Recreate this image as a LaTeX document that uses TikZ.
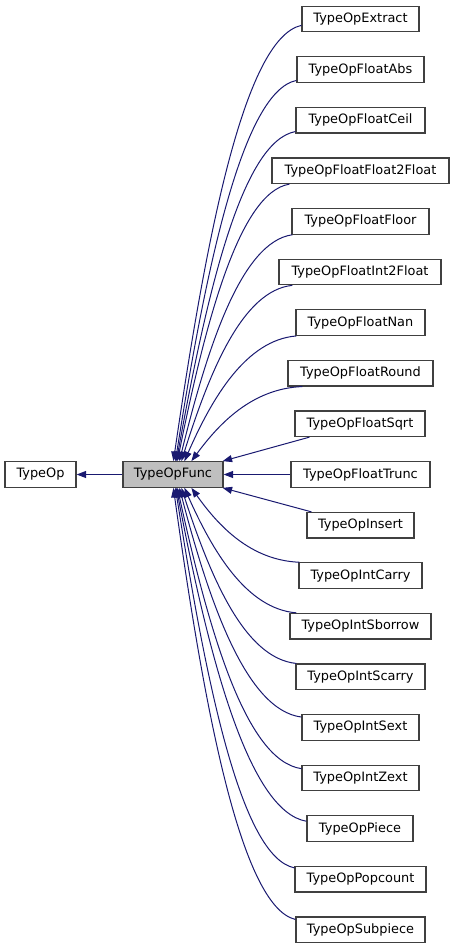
\documentclass[tikz,border=0pt]{standalone}
\usepackage{fontspec}
\setmainfont{DejaVu Sans}
\usetikzlibrary{arrows.meta,calc}
\definecolor{edgeblue}{HTML}{191970}
\definecolor{boxgray}{HTML}{404040}
\definecolor{funcfill}{HTML}{BFBFBF}
\tikzset{
  box/.style={draw=boxgray, line width=1.2pt, fill=white, minimum height=25.5pt,
    inner sep=0pt, font=\fontsize{12.9}{14}\selectfont, anchor=center},
  edge/.style={draw=edgeblue, line width=1pt, -{Triangle[length=9.5pt,width=7pt]}},
}
\begin{document}
\begin{tikzpicture}[x=1pt,y=-1pt]
\useasboundingbox (0,0) rectangle (455,949);
\node[box, minimum width=71pt] (typeop) at (40.5,474.5) {TypeOp};
\node[box, minimum width=100pt, fill=funcfill] (func) at (173,474.5) {TypeOpFunc};
\node[box, minimum width=117pt] (c0) at (360.5,19) {TypeOpExtract};
\node[box, minimum width=127pt] (c1) at (360.5,69.6) {TypeOpFloatAbs};
\node[box, minimum width=129pt] (c2) at (360.5,120.2) {TypeOpFloatCeil};
\node[box, minimum width=177pt] (c3) at (360.5,170.8) {TypeOpFloatFloat2Float};
\node[box, minimum width=137pt] (c4) at (360.5,221.4) {TypeOpFloatFloor};
\node[box, minimum width=162pt] (c5) at (360,272) {TypeOpFloatInt2Float};
\node[box, minimum width=129pt] (c6) at (360.5,322.6) {TypeOpFloatNan};
\node[box, minimum width=145pt] (c7) at (360.5,373.2) {TypeOpFloatRound};
\node[box, minimum width=130pt] (c8) at (360,423.8) {TypeOpFloatSqrt};
\node[box, minimum width=139pt] (c9) at (360.5,474.5) {TypeOpFloatTrunc};
\node[box, minimum width=107pt] (c10) at (360.5,525.2) {TypeOpInsert};
\node[box, minimum width=123pt] (c11) at (360.5,575.6) {TypeOpIntCarry};
\node[box, minimum width=141pt] (c12) at (360.5,626.2) {TypeOpIntSborrow};
\node[box, minimum width=129pt] (c13) at (360.5,676.8) {TypeOpIntScarry};
\node[box, minimum width=117pt] (c14) at (360.5,727.4) {TypeOpIntSext};
\node[box, minimum width=117pt] (c15) at (360.5,778) {TypeOpIntZext};
\node[box, minimum width=106pt] (c16) at (360,828.6) {TypeOpPiece};
\node[box, minimum width=131pt] (c17) at (360.5,879.2) {TypeOpPopcount};
\node[box, minimum width=129pt] (c18) at (360.5,929.8) {TypeOpSubpiece};
% base class
\draw[edge] (func.west) -- (typeop.east);
% upper children
\draw[edge] ($(c0.south west)+(0,-7)$) .. controls +(-58,13) and +(32,-219) .. ($(func.north west)+(51,0)$);
\draw[edge] ($(c1.south west)+(0,-2.5)$) .. controls +(-54,11) and +(30,-191) .. ($(func.north west)+(53,0)$);
\draw[edge] ($(c2.south west)+(0,-2)$) .. controls +(-54,10) and +(30,-166) .. ($(func.north west)+(54,0)$);
\draw[edge] ($(c3.south west)+(18,0)$) .. controls +(-50,8) and +(28,-139) .. ($(func.north west)+(55,0)$);
\draw[edge] ($(c4.south west)+(1,0)$) .. controls +(-51,7) and +(28,-114) .. ($(func.north west)+(57,0)$);
\draw[edge] ($(c5.south west)+(14,0)$) .. controls +(-50,5) and +(28,-89) .. ($(func.north west)+(59,0)$);
\draw[edge] ($(c6.south west)+(1,0)$) .. controls +(-50,4) and +(28,-64) .. ($(func.north west)+(62,0)$);
\draw[edge] ($(c7.south west)+(15,0)$) .. controls +(-50,2) and +(28,-38) .. ($(func.north west)+(69,0)$);
\draw[edge] ($(c8.south west)+(15,0)$) -- ($(func.north east)+(-1,0)$);
% same level
\draw[edge] (c9.west) -- (func.east);
% lower children
\draw[edge] ($(c10.north west)+(5,0)$) -- ($(func.south east)+(-1,0)$);
\draw[edge] ($(c11.north west)+(1,0)$) .. controls +(-49,-2) and +(27,38) .. ($(func.south west)+(69,0)$);
\draw[edge] ($(c12.north west)+(7,0)$) .. controls +(-50,-4) and +(28,63) .. ($(func.south west)+(62,0)$);
\draw[edge] ($(c13.north west)+(1,0)$) .. controls +(-52,-5) and +(29,89) .. ($(func.south west)+(59,0)$);
\draw[edge] ($(c14.north west)+(0,3)$) .. controls +(-55,-7) and +(30,115) .. ($(func.south west)+(57,0)$);
\draw[edge] ($(c15.north west)+(0,4)$) .. controls +(-56,-8) and +(31,141) .. ($(func.south west)+(55,0)$);
\draw[edge] ($(c16.north west)+(0,6)$) .. controls +(-58,-10) and +(32,168) .. ($(func.south west)+(54,0)$);
\draw[edge] ($(c17.north west)+(0,2)$) .. controls +(-54,-11) and +(30,191) .. ($(func.south west)+(53,0)$);
\draw[edge] ($(c18.north west)+(0,3)$) .. controls +(-55,-13) and +(30,216) .. ($(func.south west)+(51,0)$);
\end{tikzpicture}
\end{document}
